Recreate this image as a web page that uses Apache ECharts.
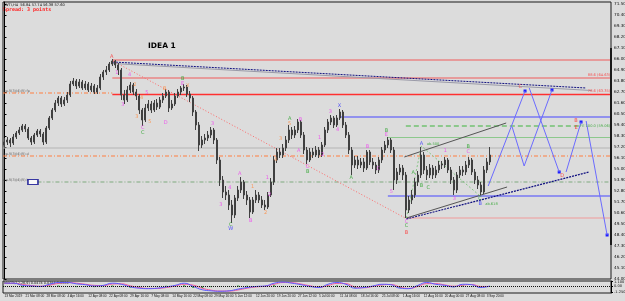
<!DOCTYPE html>
<html>
<head>
<meta charset="utf-8">
<script src="https://cdn.jsdelivr.net/npm/echarts@6/dist/echarts.min.js"></script>
<style>
html,body{margin:0;padding:0;background:#dcdcdc;}
#main{width:625px;height:301px;}
</style>
</head>
<body>
<div id="main"></div>
<script>
// tick labels of the time axis (one every 7 bars)
var dateLabels = ['13 Mar 2019','21 Mar 08:00','28 Mar 08:00','4 Apr 16:00','12 Apr 08:00','22 Apr 08:00',
  '29 Apr 16:00','7 May 08:00','14 May 16:00','22 May 08:00','29 May 16:00','5 Jun 12:00','12 Jun 20:00',
  '19 Jun 20:00','27 Jun 12:00','5 Jul 00:00','11 Jul 08:00','18 Jul 16:00','25 Jul 08:00','1 Aug 16:00',
  '12 Aug 16:00','20 Aug 00:00','27 Aug 08:00','3 Sep 20:00'];
var slotCount = 203;   // bars + empty space on the right for the projection
var labelEvery = 7;

// price bars: [open, close, low, high]
var bars = [
 [57.4,57.7,57.2,58.1],[57.7,57.9,57.4,58.2],[57.9,57.6,57.2,58.1],[57.6,58.2,57.4,58.5],[58.2,58.6,58.0,58.8],
 [58.6,58.9,58.4,59.2],[58.9,59.3,58.7,59.5],[59.3,59.0,58.7,59.5],[59.0,58.1,57.9,59.2],[58.1,57.7,57.4,58.3],
 [57.7,58.4,57.5,58.6],[58.4,58.8,58.2,59.0],[58.8,58.5,58.2,59.0],[58.5,57.7,57.4,58.7],[57.7,59.1,57.5,59.3],
 [59.1,60.1,58.9,60.3],[60.1,60.9,59.9,61.1],[60.9,61.6,60.7,61.9],[61.6,62.1,61.3,62.3],[62.1,61.5,61.2,62.3],
 [61.5,61.9,61.3,62.2],[61.9,62.4,61.6,62.7],[62.4,63.5,62.2,63.8],[63.5,63.8,63.3,64.1],[63.8,63.3,63.0,64.0],
 [63.3,63.7,63.1,64.0],[63.7,63.1,62.9,63.9],[63.1,63.5,62.9,63.8],[63.5,62.9,62.7,63.7],[62.9,63.3,62.7,63.6],
 [63.3,62.7,62.5,63.5],[62.7,63.1,62.5,63.4],[63.1,64.2,62.9,64.5],[64.2,64.7,63.9,64.9],[64.7,64.9,64.4,65.3],
 [64.9,65.5,64.7,65.7],[65.5,65.8,65.3,66.0],[65.8,65.4,65.1,65.9],[65.4,64.9,64.4,65.6],[64.9,62.4,61.9,65.1],
 [62.4,61.9,61.5,62.9],[61.9,62.9,61.7,63.3],[62.9,63.4,62.6,63.7],[63.4,62.7,62.4,63.6],[62.7,62.3,61.9,63.0],
 [62.3,60.9,60.5,62.5],[60.9,59.9,59.3,61.1],[59.9,61.1,59.7,61.5],[61.1,61.5,60.8,61.9],[61.5,60.9,60.6,61.8],
 [60.9,61.6,60.7,61.9],[61.6,61.2,60.9,62.0],[61.2,61.9,61.0,62.2],[61.9,62.3,61.6,62.6],[62.3,62.7,62.1,63.0],
 [62.7,61.1,60.7,62.9],[61.1,61.5,60.9,61.9],[61.5,62.3,61.3,62.6],[62.3,62.7,62.1,63.0],[62.7,63.1,62.4,63.3],
 [63.1,63.2,62.8,63.5],[63.2,62.5,62.2,63.4],[62.5,62.1,61.7,62.8],[62.1,60.7,60.3,62.3],[60.7,59.4,58.9,60.9],
 [59.4,57.4,56.8,59.7],[57.4,57.9,57.1,58.3],[57.9,58.1,57.5,58.5],[58.1,58.4,57.8,58.8],[58.4,58.9,58.1,59.2],
 [58.9,57.9,57.5,59.1],[57.9,55.9,55.5,58.1],[55.9,53.9,53.3,56.2],[53.9,52.7,52.1,54.3],[52.7,52.4,51.9,53.3],
 [52.4,51.4,50.9,52.9],[51.4,50.4,49.6,51.9],[50.4,52.1,50.1,52.4],[52.1,52.9,51.8,53.3],[52.9,53.7,52.6,54.2],
 [53.7,52.4,52.0,53.9],[52.4,51.9,51.4,52.8],[51.9,50.7,50.1,52.2],[50.7,51.9,50.5,52.2],[51.9,52.4,51.6,52.9],
 [52.4,51.9,51.6,52.7],[51.9,51.4,51.1,52.3],[51.4,51.2,50.9,51.9],[51.2,52.4,51.0,52.7],[52.4,53.7,52.2,54.1],
 [53.7,55.9,53.4,56.3],[55.9,56.7,55.6,57.1],[56.7,56.4,56.1,57.1],[56.4,57.1,56.1,57.5],[57.1,57.9,56.8,58.3],
 [57.9,58.9,57.6,59.4],[58.9,58.4,58.0,59.2],[58.4,58.9,58.1,59.3],[58.9,59.7,58.6,60.0],[59.7,58.4,58.1,59.9],
 [58.4,56.9,56.5,58.7],[56.9,55.9,55.5,57.2],[55.9,56.7,55.7,57.1],[56.7,56.4,56.1,57.1],[56.4,56.9,56.2,57.3],
 [56.9,56.4,56.1,57.2],[56.4,57.4,56.2,57.7],[57.4,58.9,57.2,59.2],[58.9,59.7,58.6,60.0],[59.7,60.1,59.4,60.4],
 [60.1,59.4,59.1,60.3],[59.4,60.1,59.2,60.4],[60.1,60.7,59.9,61.0],[60.7,59.4,59.1,60.9],[59.4,58.4,58.1,59.7],
 [58.4,56.9,56.5,58.7],[56.9,55.4,54.4,57.2],[55.4,55.9,55.1,56.3],[55.9,55.4,55.0,56.3],[55.4,55.7,55.1,56.1],
 [55.7,55.1,54.7,56.1],[55.1,56.7,54.9,56.9],[56.7,55.7,55.4,56.9],[55.7,55.4,55.0,56.1],[55.4,54.9,54.5,55.7],
 [54.9,55.9,54.6,56.2],[55.9,56.9,55.6,57.2],[56.9,57.4,56.6,57.8],[57.4,57.9,57.1,58.2],[57.9,56.9,56.6,58.1],
 [56.9,53.9,52.9,57.2],[53.9,54.7,53.5,55.1],[54.7,55.1,54.4,55.5],[55.1,54.4,53.9,55.4],[54.4,50.9,50.1,54.7],
 [50.9,51.9,50.6,52.3],[51.9,52.4,51.5,52.9],[52.4,53.7,52.1,54.1],[53.7,54.4,53.3,54.8],[54.4,56.4,54.1,57.2],
 [56.4,54.9,54.5,56.7],[54.9,54.4,53.9,55.3],[54.4,55.1,54.1,55.5],[55.1,54.4,54.0,55.4],[54.4,54.9,54.1,55.3],
 [54.9,55.4,54.6,55.8],[55.5,55.4,55.0,55.8],[55.4,55.9,55.1,56.2],[55.9,54.9,54.6,56.1],[54.9,53.9,53.5,55.2],
 [53.9,52.9,52.4,54.2],[52.9,54.4,52.6,54.7],[54.4,54.9,54.1,55.3],[54.9,54.7,54.3,55.3],[54.7,55.4,54.4,55.8],
 [55.4,55.9,55.1,56.2],[55.9,54.7,54.4,56.1],[54.7,53.9,53.5,55.0],[53.9,53.4,53.0,54.3],[53.4,52.7,52.4,53.7],
 [52.7,54.9,52.5,55.3],[54.9,55.7,54.6,56.1],[55.7,56.4,55.4,57.2]
];

// horizontal levels and trend lines: [barIndex, price]
var redTop = [[36, 65.9], [202.5, 65.9]];
var red886 = [[36, 64.1], [202.5, 64.1]];
var red786 = [[36, 62.45], [202.5, 62.45]];
var orangeFp = [[-0.5, 62.6], [36, 62.6]];
var blueHigh = [[112, 60.2], [202.5, 60.2]];
var greenFe = [[134, 59.3], [192, 59.3]];
var greenSolid = [[128, 58.15], [202.5, 58.15]];
var bidLine = [[-0.5, 57.1], [202.5, 57.1]];
var orangeD = [[-0.5, 56.3], [202.5, 56.3]];
var greenLs = [[11, 53.7], [202.5, 53.7]];
var blueLow = [[128, 52.3], [202.5, 52.3]];
var pinkLow = [[134, 50.1], [202.5, 50.1]];
var navyTop = [[36.2, 65.7], [194.2, 63.1]];
var grayTop = [[36.2, 65.55], [196, 62.85]];
var redDrop = [[36.2, 65.8], [133.8, 50.1]];
var chanUpper = [[133.5, 56.2], [167.5, 59.6]];
var chanLower = [[134.2, 50.1], [167.8, 53.2]];
var navyLow = [[134.2, 50.0], [195.2, 54.7]];
var greenAb = [[134.2, 50.1], [139.2, 57.3], [158.8, 52.3]];
// projected paths
var projMain = [[161.5, 53.3], [173.8, 62.8]];
var projC = [[175.2, 63.1], [185.2, 54.7]];
var projE = [[187.5, 54.7], [192.5, 59.7]];
var projDrop = [[194.2, 59.8], [201.2, 48.4]];
var projAlt = [[169.5, 59.2], [173.5, 55.3], [182.8, 62.9]];

// wave labels: [barIndex, price, text]
var magentaMarks = [[37.5,64.6,'1'],[39.5,61.4,'3'],[41.8,64.4,'4'],[47.5,62.6,'5'],[46.2,59.1,'C'],[53.8,59.6,'D'],
  [59.5,63.5,'E'],[69.5,59.5,'3'],[72.2,51.4,'3'],[75.2,53.1,'4'],[78.5,54.5,'A'],[82.2,49.8,'B'],[87.8,54.1,'1'],
  [88.5,52.4,'2'],[98.8,59.9,'B'],[98.2,56.8,'A'],[101.2,55.2,'C'],[105.2,58.1,'1'],[106.2,56.4,'2'],[108.8,60.7,'3'],
  [111.2,58.9,'4'],[121.2,57.2,'B'],[124.8,55.0,'C'],[127.5,58.4,'E'],[129.2,52.7,'5'],[147.2,56.8,'1'],
  [154.8,56.7,'C'],[150.2,52.0,'3'],[134.2,49.7,'C']];
var redMarks = [[35.8,66.2,'A'],[134.2,48.6,'B'],[172.2,63.2,'C'],[186.2,54.3,'D'],[190.8,59.8,'B'],[190.8,59.1,'E']];
var orangeMarks = [[43.5,63.4,'2'],[45.8,62.1,'4'],[44.2,60.2,'3'],[48.5,59.7,'5'],[53.5,63.0,'B'],[61.2,63.3,'X'],
  [82.8,53.2,'1'],[87.2,50.6,'2'],[90.5,55.9,'4'],[92.2,58.0,'3'],[95.2,59.5,'5']];
var greenMarks = [[46.2,58.6,'C'],[59.5,64.0,'B'],[75.5,49.4,'C'],[95.2,60.0,'A'],[101.2,54.7,'B'],[115.8,54.1,'A'],
  [127.5,58.8,'B'],[136.5,54.6,'A'],[139.2,53.3,'B'],[141.5,53.1,'C'],[154.8,57.2,'B'],[158.8,52.0,'C'],[134.2,49.3,'C']];
var blueMarks = [[75.5,49.0,'W'],[111.8,61.3,'X'],[139.2,57.5,'A'],[158.8,51.5,'B']];
var noteMarks = [[141,57.5,'ab.500'],[160.5,51.5,'ab.618']];
var leftTags = [[-0.3,62.6,'ep.5(3)(4)(5) fp'],[-0.3,56.3,'ep.5(3)(4)(5) d'],[-0.3,53.7,'ep.5(3)(4)(5) ls']];
var rightTags = [[202.2,64.15,'88.6 (64.63)'],[202.2,62.55,'78.6 (63.35)']];
var feTag = [[202.2,59.3,'FE 100.0 (59.06)']];
var lsBox = [[9.5,53.7]];

// oscillator, one value every 3 bars
var oscStep = 3;
var oscFast = [0.75,0.75,0.25,0.1,0,0.5,0.9,0.9,0.6,0.4,0.1,0.25,0.75,0.5,-0.1,-0.4,-0.5,-0.4,-0.1,0.25,0.75,0,
  -0.75,-1.0,-1.1,-1.0,-0.6,-0.25,0,0.1,0.75,1.0,0.75,0.4,0,-0.25,0.5,0.9,0.5,-0.4,-0.25,0.1,0.5,0.4,-0.4,-0.5,
  0.25,0.9,0.5,0.25,-0.1,0.5,0.4,-0.25,0.1];
var oscSlow = [0.7,0.72,0.45,0.2,0.05,0.3,0.7,0.88,0.75,0.5,0.25,0.2,0.55,0.6,0.15,-0.25,-0.45,-0.45,-0.25,0.1,0.5,
  0.3,-0.4,-0.85,-1.05,-1.05,-0.8,-0.4,-0.1,0.05,0.5,0.9,0.85,0.55,0.15,-0.15,0.2,0.7,0.65,-0.1,-0.3,0,0.35,0.45,
  -0.1,-0.45,0,0.65,0.65,0.35,0.05,0.3,0.45,0,0.0];
var oscHist = [0.05,0.03,-0.2,-0.1,-0.05,0.2,0.2,0.02,-0.15,-0.1,-0.15,0.05,0.2,-0.1,-0.25,-0.15,-0.05,0.05,0.15,
  0.15,0.25,-0.3,-0.35,-0.15,-0.05,0.05,0.2,0.15,0.1,0.05,0.25,0.1,-0.1,-0.15,-0.15,-0.1,0.3,0.2,-0.15,-0.3,0.05,
  0.1,0.15,-0.05,-0.3,-0.05,0.25,0.25,-0.15,-0.1,-0.15,0.2,-0.05,-0.25,0.1];
var oscTicks = [1.1, 0, -1.25];

var categories = [];
for (var i = 0; i < slotCount; i++) {
  var k = i / labelEvery;
  categories.push(i % labelEvery === 0 && k < dateLabels.length ? dateLabels[k] : '');
}
function oscPairs(arr) {
  return arr.map(function (v, j) { return [j * oscStep, v]; });
}

function seg(data, color, width, type) {
  return {
    type: 'line', xAxisIndex: 1, yAxisIndex: 0, data: data, symbol: 'none', silent: true,
    lineStyle: {color: color, width: width, type: type || 'solid'}, z: 3, animation: false
  };
}
function marks(data, color, opts) {
  opts = opts || {};
  return {
    type: 'scatter', xAxisIndex: 1, yAxisIndex: 0, data: data, symbolSize: 1, silent: true,
    itemStyle: {color: 'rgba(0,0,0,0)'}, z: 6, animation: false,
    label: {
      show: true, position: 'inside', color: color, fontSize: opts.size || 5,
      fontFamily: 'DejaVu Sans', fontWeight: opts.bold ? 'bold' : 'normal',
      align: opts.align || 'center', verticalAlign: opts.valign || 'middle',
      formatter: function (p) { return p.value[2]; }
    },
    labelLayout: {hideOverlap: false}
  };
}
function proj(data) {
  return {
    type: 'line', xAxisIndex: 1, yAxisIndex: 0, data: data, symbol: 'none',
    lineStyle: {color: '#6b6bff', width: 1}, z: 5,
    markPoint: {symbol: 'rect', symbolSize: 3, itemStyle: {color: '#1e1eff'}, label: {show: false},
      data: [{coord: data[data.length - 1]}]}
  };
}

var chart = echarts.init(document.getElementById('main'));
chart.setOption({
  backgroundColor: '#dcdcdc',
  animation: false,
  grid: [
    {left: 3, right: 14, top: 2, bottom: 22, show: true, borderColor: '#1a1a1a', borderWidth: 1,
      backgroundColor: '#dcdcdc', containLabel: false, outerBoundsMode: 'none'},
    {left: 3, right: 14, top: 281, bottom: 8, show: true, borderColor: '#1a1a1a', borderWidth: 1,
      backgroundColor: '#dcdcdc', containLabel: false, outerBoundsMode: 'none'}
  ],
  xAxis: [
    {type: 'category', gridIndex: 0, data: categories, boundaryGap: true,
      axisLine: {show: false}, axisTick: {show: false}, axisLabel: {show: false}, splitLine: {show: false}},
    {type: 'value', gridIndex: 0, min: -0.5, max: slotCount - 0.5, show: false},
    {type: 'category', gridIndex: 1, data: categories, boundaryGap: true,
      axisLine: {show: false}, axisTick: {show: false}, splitLine: {show: false},
      axisLabel: {show: true, fontSize: 3.2, color: '#111', align: 'left', margin: 2, fontFamily: 'Liberation Sans',
        hideOverlap: false, showMinLabel: true, interval: function (idx, val) { return val !== ''; }}}
  ],
  yAxis: [
    {type: 'value', gridIndex: 0, position: 'right', min: 44.0, max: 71.7, interval: 1.1,
      splitLine: {show: false}, axisLine: {show: true, lineStyle: {color: '#000', width: 1}},
      axisTick: {show: true, length: 2, lineStyle: {color: '#000'}},
      axisLabel: {fontSize: 4.2, color: '#111', margin: 3, fontFamily: 'DejaVu Sans',
        formatter: function (v) { return v.toFixed(2); }}},
    {type: 'value', gridIndex: 1, position: 'right', min: -1.5, max: 1.25,
      splitLine: {show: false}, axisLine: {show: true, lineStyle: {color: '#000'}},
      axisTick: {show: true, length: 2, customValues: oscTicks},
      axisLabel: {fontSize: 3.6, color: '#111', margin: 3, customValues: oscTicks, fontFamily: 'DejaVu Sans',
        formatter: function (v) { return v === 0 ? '0.00' : v.toFixed(3); }}}
  ],
  series: [
    seg(bidLine, '#b4b4b4', 1),
    seg(orangeFp, '#ff7f40', 1, [4, 2, 1, 2]),
    seg(orangeD, '#ff7f40', 1, [4, 2, 1, 2]),
    seg(greenLs, '#7faa7f', 1, [4, 2, 1, 2]),
    seg(redTop, '#f05a5a', 1),
    seg(red886, '#f05a5a', 1),
    seg(red786, '#ff3030', 1.5),
    seg(blueHigh, '#4646ff', 1),
    seg(greenFe, '#3cb43c', 1, [5, 3]),
    seg(greenSolid, '#8cc88c', 1),
    seg(blueLow, '#4646ff', 1),
    seg(pinkLow, '#f09a9a', 1.2),
    seg(grayTop, '#9a9aa8', 1),
    seg(navyTop, '#101080', 1, [2, 1]),
    seg(redDrop, '#ff6a6a', 1, [1, 2]),
    seg(chanUpper, '#555555', 1),
    seg(chanLower, '#555555', 1),
    seg(navyLow, '#101080', 1.2, [2, 1]),
    seg(greenAb, '#6fbf6f', 0.8, [2, 2]),
    {
      type: 'candlestick', xAxisIndex: 0, yAxisIndex: 0, data: bars, barMaxWidth: 1.5, z: 4,
      itemStyle: {color: '#404040', color0: '#404040', borderColor: '#404040', borderColor0: '#404040', borderWidth: 1}
    },
    proj(projMain), proj(projC), proj(projE), proj(projDrop), proj(projAlt),
    marks(magentaMarks, '#f03cf0'),
    marks(redMarks, '#ff2a2a'),
    marks(orangeMarks, '#ff8a3c'),
    marks(greenMarks, '#22a022'),
    marks(blueMarks, '#2a2aff'),
    marks(noteMarks, '#22a022', {size: 3.6, align: 'left'}),
    marks(leftTags, '#333', {size: 3.4, align: 'left', valign: 'bottom'}),
    marks(rightTags, '#ff2a2a', {size: 3.6, align: 'right', valign: 'bottom'}),
    marks(feTag, '#22a022', {size: 3.6, align: 'right'}),
    {
      type: 'scatter', xAxisIndex: 1, yAxisIndex: 0, data: lsBox, symbol: 'rect', symbolSize: [10, 5], z: 7,
      itemStyle: {color: '#ffffff', borderColor: '#0a0a90', borderWidth: 1.2}
    },
    {
      type: 'bar', xAxisIndex: 2, yAxisIndex: 1, data: oscPairs(oscHist), barWidth: 2,
      itemStyle: {color: '#1c9a1c'}
    },
    {
      type: 'line', xAxisIndex: 2, yAxisIndex: 1, data: oscPairs(oscSlow), symbol: 'none', smooth: true,
      lineStyle: {color: '#f05a9a', width: 1}
    },
    {
      type: 'line', xAxisIndex: 2, yAxisIndex: 1, data: oscPairs(oscFast), symbol: 'none', smooth: true,
      lineStyle: {color: '#5a5aff', width: 1},
      markLine: {silent: true, symbol: 'none', label: {show: false},
        lineStyle: {color: '#111', type: [1, 1], width: 1}, data: [{yAxis: 0}]}
    }
  ],
  graphic: [
    {type: 'rect', shape: {x: 610, y: 48, width: 2, height: 197}, style: {fill: '#1a1a1a'}, z: 10},
    {type: 'text', left: 5, top: 3, style: {text: 'WTI,H4  56.84 57.74 56.38 57.60', fontSize: 3.6, fill: '#111', fontFamily: 'DejaVu Sans'}},
    {type: 'text', left: 3, top: 7, style: {text: 'Spread: 3 points', fontSize: 5, fontWeight: 'bold', fill: '#ff1e1e', fontFamily: 'DejaVu Sans Mono'}},
    {type: 'text', left: 148, top: 42, style: {text: 'IDEA 1', fontSize: 7.5, fontWeight: 'bold', fill: '#000', fontFamily: 'DejaVu Sans'}},
    {type: 'text', left: 4, top: 282, style: {text: 'MACD(12,26,9) 0.0474 0.0384 0.0384', fontSize: 3.4, fill: '#111', fontFamily: 'DejaVu Sans'}}
  ]
});
</script>
</body>
</html>
